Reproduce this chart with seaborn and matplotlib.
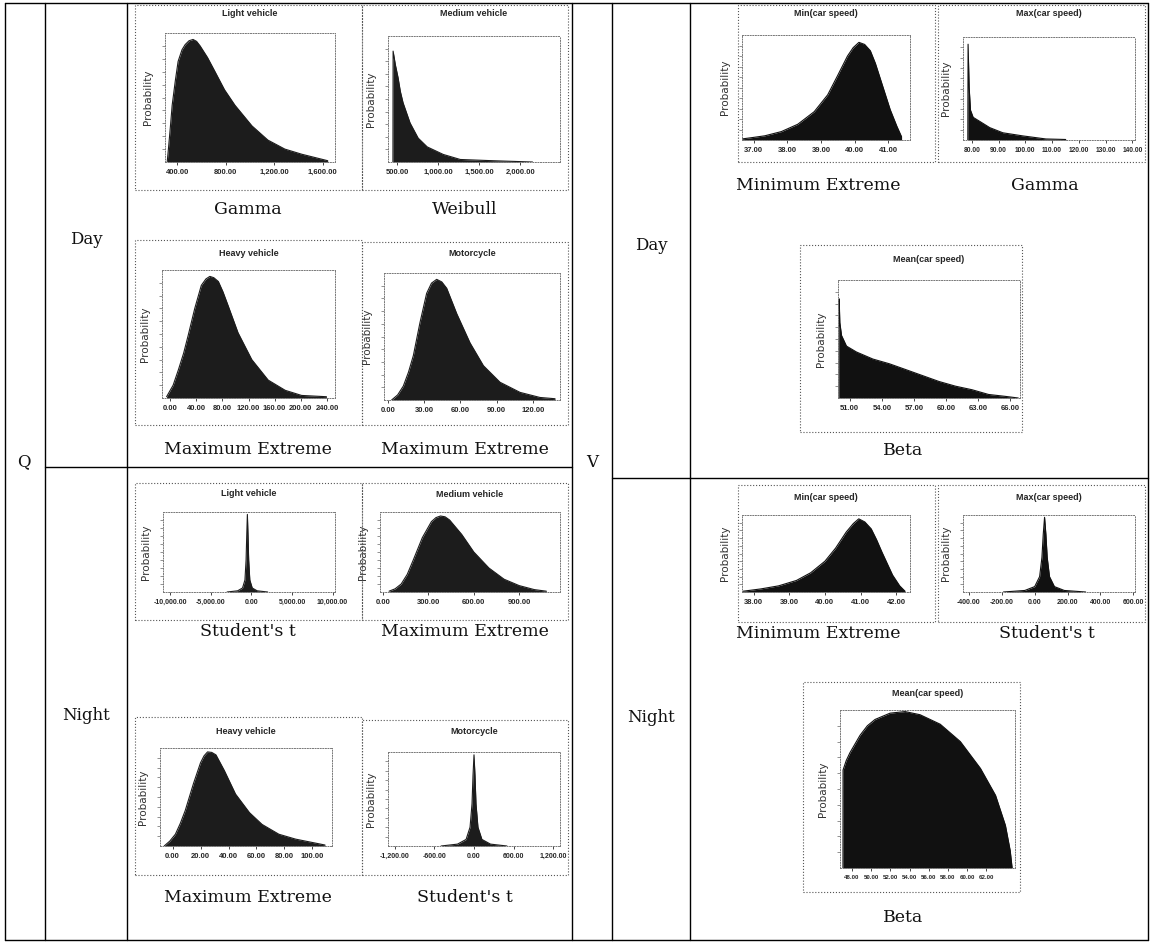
import matplotlib.pyplot as plt
import seaborn as sns
from matplotlib.lines import Line2D
from matplotlib.patches import Rectangle

# ---- data (relative probability heights) ----
# Q, day
q_day_light_x = [318, 330, 345, 359, 385, 408, 440, 466, 498, 531, 560, 589, 650, 712, 790, 876,
                 1016, 1147, 1287, 1427, 1640]
q_day_light_y = [0, 0.12, 0.28, 0.44, 0.63, 0.78, 0.87, 0.91, 0.94, 0.95, 0.935, 0.90, 0.81, 0.70,
                 0.56, 0.44, 0.28, 0.17, 0.10, 0.06, 0.01]
q_day_light_ticks = [400, 800, 1200, 1600]
q_day_light_labels = ["400.00", "800.00", "1,200.00", "1,600.00"]

q_day_medium_x = [450, 452, 480, 512, 540, 573, 658, 756, 866, 1061, 1268, 1671, 2146]
q_day_medium_y = [0, 0.88, 0.77, 0.67, 0.56, 0.47, 0.31, 0.19, 0.12, 0.06, 0.02, 0.01, 0]
q_day_medium_ticks = [500, 1000, 1500, 2000]
q_day_medium_labels = ["500.00", "1,000.00", "1,500.00", "2,000.00"]

q_day_heavy_x = [-5, 5, 13, 21, 28, 38, 48, 55, 61, 67, 74, 81, 89, 104, 125, 150, 176, 201, 239]
q_day_heavy_y = [0.01, 0.10, 0.22, 0.35, 0.49, 0.70, 0.88, 0.93, 0.95, 0.94, 0.91, 0.83, 0.72,
                 0.51, 0.30, 0.14, 0.06, 0.02, 0.01]
q_day_heavy_ticks = [0, 40, 80, 120, 160, 200, 240]
q_day_heavy_labels = ["0.00", "40.00", "80.00", "120.00", "160.00", "200.00", "240.00"]

q_day_moto_x = [3, 8, 12.7, 17, 21, 26.5, 32, 36, 40.3, 44.5, 48.6, 56.9, 67.9, 79, 92.7, 109.3,
                125.8, 138.3]
q_day_moto_y = [0, 0.04, 0.11, 0.22, 0.35, 0.61, 0.84, 0.92, 0.95, 0.93, 0.88, 0.68, 0.45, 0.27,
                0.14, 0.06, 0.02, 0.01]
q_day_moto_ticks = [0, 30, 60, 90, 120]
q_day_moto_labels = ["0.00", "30.00", "60.00", "90.00", "120.00"]

# Q, night
q_night_light_x = [-3000, -1700, -1100, -800, -660, -580, -500, -420, -340, -200, 100, 700, 2000]
q_night_light_y = [0, 0.015, 0.05, 0.15, 0.4, 0.7, 0.97, 0.7, 0.4, 0.15, 0.05, 0.015, 0]
q_night_light_ticks = [-10000, -5000, 0, 5000, 10000]
q_night_light_labels = ["-10,000.00", "-5,000.00", "0.00", "5,000.00", "10,000.00"]

q_night_medium_x = [40, 80, 120, 160, 200, 260, 320, 350, 380, 410, 440, 520, 600, 700, 800, 900,
                    1000, 1080]
q_night_medium_y = [0.01, 0.04, 0.10, 0.22, 0.40, 0.68, 0.88, 0.93, 0.95, 0.94, 0.90, 0.72, 0.50,
                    0.30, 0.16, 0.08, 0.03, 0.01]
q_night_medium_ticks = [0, 300, 600, 900]
q_night_medium_labels = ["0.00", "300.00", "600.00", "900.00"]

q_night_heavy_x = [-6, -2, 2, 5.5, 9, 15, 20, 22.5, 25, 28, 31, 37, 45, 55, 64, 76, 88, 102, 109]
q_night_heavy_y = [0, 0.05, 0.12, 0.23, 0.36, 0.64, 0.85, 0.92, 0.96, 0.955, 0.93, 0.77, 0.53,
                   0.34, 0.22, 0.12, 0.07, 0.03, 0.01]
q_night_heavy_ticks = [0, 20, 40, 60, 80, 100]
q_night_heavy_labels = ["0.00", "20.00", "40.00", "60.00", "80.00", "100.00"]

q_night_moto_x = [-500, -250, -120, -60, -30, -15, 0, 15, 30, 60, 120, 250, 500]
q_night_moto_y = [0, 0.02, 0.07, 0.2, 0.45, 0.75, 0.97, 0.75, 0.45, 0.2, 0.07, 0.02, 0]
q_night_moto_ticks = [-1200, -600, 0, 600, 1200]
q_night_moto_labels = ["-1,200.00", "-600.00", "0.00", "600.00", "1,200.00"]

# V, day
v_day_min_x = [36.65, 37.0, 37.33, 37.82, 38.31, 38.80, 39.20, 39.49, 39.79, 39.96, 40.13, 40.3,
               40.47, 40.62, 40.76, 40.91, 41.06, 41.26, 41.40]
v_day_min_y = [0.01, 0.025, 0.04, 0.08, 0.15, 0.27, 0.43, 0.61, 0.80, 0.88, 0.93, 0.91, 0.85,
               0.73, 0.59, 0.44, 0.29, 0.13, 0.03]
v_day_min_ticks = [37, 38, 39, 40, 41]
v_day_min_labels = ["37.00", "38.00", "39.00", "40.00", "41.00"]

v_day_max_x = [78.5, 78.6, 79.0, 79.5, 80.5, 83.0, 86.7, 91.6, 99.0, 107.7, 115.1]
v_day_max_y = [0, 0.93, 0.51, 0.29, 0.22, 0.18, 0.12, 0.07, 0.04, 0.01, 0.005]
v_day_max_ticks = [80, 90, 100, 110, 120, 130, 140]
v_day_max_labels = ["80.00", "90.00", "100.00", "110.00", "120.00", "130.00", "140.00"]

v_day_mean_x = [50.0, 50.01, 50.07, 50.23, 50.69, 51.62, 53.16, 54.70, 56.25, 57.79,
                59.33, 60.88, 62.42, 63.96, 65.51, 66.74]
v_day_mean_y = [0, 0.84, 0.64, 0.53, 0.44, 0.39, 0.33, 0.29, 0.24, 0.19,
                0.14, 0.10, 0.07, 0.03, 0.014, 0]
v_day_mean_ticks = [51, 54, 57, 60, 63, 66]
v_day_mean_labels = ["51.00", "54.00", "57.00", "60.00", "63.00", "66.00"]

# V, night
v_night_min_x = [37.7, 38.2, 38.7, 39.2, 39.6, 40.0, 40.3, 40.6, 40.8, 40.95, 41.12, 41.3, 41.45,
                 41.6, 41.9, 42.1, 42.25]
v_night_min_y = [0.01, 0.04, 0.08, 0.15, 0.25, 0.40, 0.57, 0.78, 0.89, 0.95, 0.91, 0.82, 0.68,
                 0.52, 0.22, 0.08, 0.01]
v_night_min_ticks = [38, 39, 40, 41, 42]
v_night_min_labels = ["38.00", "39.00", "40.00", "41.00", "42.00"]

v_night_max_x = [-190, -60, 0, 30, 44, 52, 60, 68, 76, 90, 120, 180, 310]
v_night_max_y = [0, 0.02, 0.07, 0.2, 0.45, 0.75, 0.97, 0.75, 0.45, 0.2, 0.07, 0.02, 0]
v_night_max_ticks = [-400, -200, 0, 200, 400, 600]
v_night_max_labels = ["-400.00", "-200.00", "0.00", "200.00", "400.00", "600.00"]

v_night_mean_x = [47.06, 47.07, 47.4, 47.79, 48.84, 49.6, 50.4, 51.97, 53.54, 55.1, 57.2, 59.3,
                  61.4, 62.97, 64.0, 64.5, 64.7]
v_night_mean_y = [0, 0.62, 0.68, 0.73, 0.84, 0.90, 0.94, 0.98, 0.99, 0.97, 0.91, 0.80,
                  0.63, 0.46, 0.27, 0.11, 0]
v_night_mean_ticks = [48, 50, 52, 54, 56, 58, 60, 62]
v_night_mean_labels = ["48.00", "50.00", "52.00", "54.00", "56.00", "58.00", "60.00", "62.00"]

# ---- figure ----
sns.set_theme(style="white")
plt.rcParams['font.family'] = ['DejaVu Sans']

W, H = 1150, 950
fig = plt.figure(figsize=(W / 100, H / 100), dpi=100)
fig.patch.set_facecolor('white')

SERIF = ['DejaVu Serif']
NARROW = ['Liberation Sans', 'DejaVu Sans']


def fx(px):
    return px / W


def fy(py):
    return 1 - py / H


def line(x0, y0, x1, y1):
    fig.add_artist(Line2D([fx(x0), fx(x1)], [fy(y0), fy(y1)], color='black', lw=1.0))


def label(x, y, s, size=12):
    fig.text(fx(x), fy(y), s, family=SERIF, fontsize=size, ha='center', va='center', color='#111')


def panel(frame, area, title, title_y, xs, ys, xlim, ticks, labels, caption, cap_xy,
          fill='#1c1c1c', tsize=5.5):
    x0, y0, x1, y1 = frame
    fig.add_artist(Rectangle((fx(x0), fy(y1)), fx(x1) - fx(x0), fy(y0) - fy(y1),
                             transform=fig.transFigure, fill=False, ls=':', lw=0.8, ec='#555'))
    a0, b0, a1, b1 = area
    fig.text(fx((a0 + a1) / 2), fy(title_y), title, family=NARROW, fontsize=6.5,
             fontweight='bold', ha='center', va='center')
    ax = fig.add_axes([fx(a0), fy(b1), fx(a1) - fx(a0), fy(b0) - fy(b1)])
    ax.fill_between(xs, ys, color=fill, lw=0)
    sns.lineplot(x=xs, y=ys, ax=ax, color=fill, lw=0.8, estimator=None, sort=False)
    ax.set_xlim(xlim)
    ax.set_ylim(0, 1.0)
    ax.set_xticks(ticks)
    ax.set_xticklabels(labels, fontsize=tsize, fontweight='bold', family=NARROW)
    ax.set_yticks([0.1, 0.2, 0.3, 0.4, 0.5, 0.6, 0.7, 0.8, 0.9])
    ax.set_yticklabels([])
    ax.tick_params(axis='x', bottom=True, length=2, width=0.6, pad=3)
    ax.tick_params(axis='y', left=True, length=2, width=0.5, color='#666')
    for s in ax.spines.values():
        s.set_linestyle(':')
        s.set_linewidth(0.7)
        s.set_color('#777')
    ax.set_ylabel('Probability', fontsize=7.5, labelpad=3, color='#333')
    ax.set_xlabel('')
    label(cap_xy[0], cap_xy[1], caption, size=12.5)


# table grid
line(5, 3, 1148, 3)
line(5, 940, 1148, 940)
for xv in [5, 45, 127, 572, 612, 690, 1148]:
    line(xv, 3, xv, 940)
line(45, 467, 572, 467)
line(612, 478, 1148, 478)

label(24, 462, "Q")
label(86, 240, "Day")
label(86, 715, "Night")
label(592, 462, "V")
label(651, 245, "Day")
label(651, 718, "Night")

# Q panels
panel((135, 5, 362, 190), (165, 33, 335, 162), "Light vehicle", 14,
      q_day_light_x, q_day_light_y, (300, 1700), q_day_light_ticks, q_day_light_labels,
      "Gamma", (248, 210))
panel((362, 5, 568, 190), (388, 36, 560, 162), "Medium vehicle", 14,
      q_day_medium_x, q_day_medium_y, (390, 2480), q_day_medium_ticks, q_day_medium_labels,
      "Weibull", (465, 210))
panel((135, 240, 362, 425), (162, 270, 335, 398), "Heavy vehicle", 253,
      q_day_heavy_x, q_day_heavy_y, (-12, 252), q_day_heavy_ticks, q_day_heavy_labels,
      "Maximum Extreme", (248, 450))
panel((362, 242, 568, 425), (384, 273, 560, 400), "Motorcycle", 253,
      q_day_moto_x, q_day_moto_y, (-3.3, 142.4), q_day_moto_ticks, q_day_moto_labels,
      "Maximum Extreme", (465, 450))
panel((135, 483, 362, 620), (163, 512, 335, 592), "Light vehicle", 493,
      q_night_light_x, q_night_light_y, (-10900, 10300), q_night_light_ticks, q_night_light_labels,
      "Student's t", (248, 632), tsize=5.0)
panel((362, 483, 568, 620), (380, 512, 560, 592), "Medium vehicle", 495,
      q_night_medium_x, q_night_medium_y, (-20, 1170), q_night_medium_ticks, q_night_medium_labels,
      "Maximum Extreme", (465, 632))
panel((135, 717, 362, 875), (160, 748, 332, 846), "Heavy vehicle", 731,
      q_night_heavy_x, q_night_heavy_y, (-9, 114), q_night_heavy_ticks, q_night_heavy_labels,
      "Maximum Extreme", (248, 897))
panel((362, 720, 568, 875), (388, 752, 560, 846), "Motorcycle", 731,
      q_night_moto_x, q_night_moto_y, (-1306, 1306), q_night_moto_ticks, q_night_moto_labels,
      "Student's t", (465, 897), tsize=5.0)

# V panels
panel((738, 5, 935, 162), (742, 35, 910, 140), "Min(car speed)", 14,
      v_day_min_x, v_day_min_y, (36.65, 41.65), v_day_min_ticks, v_day_min_labels,
      "Minimum Extreme", (818, 186), fill='#111111')
panel((938, 5, 1145, 162), (963, 37, 1135, 140), "Max(car speed)", 14,
      v_day_max_x, v_day_max_y, (76.7, 141), v_day_max_ticks, v_day_max_labels,
      "Gamma", (1045, 186), fill='#111111', tsize=4.8)
panel((800, 245, 1022, 432), (838, 280, 1020, 398), "Mean(car speed)", 259,
      v_day_mean_x, v_day_mean_y, (49.9, 66.9), v_day_mean_ticks, v_day_mean_labels,
      "Beta", (903, 451), fill='#111111')
panel((738, 485, 935, 622), (742, 515, 910, 592), "Min(car speed)", 497,
      v_night_min_x, v_night_min_y, (37.67, 42.39), v_night_min_ticks, v_night_min_labels,
      "Minimum Extreme", (818, 633), fill='#111111')
panel((938, 485, 1145, 622), (963, 515, 1135, 592), "Max(car speed)", 497,
      v_night_max_x, v_night_max_y, (-436, 610), v_night_max_ticks, v_night_max_labels,
      "Student's t", (1047, 633), fill='#111111', tsize=5.0)
panel((803, 682, 1020, 892), (840, 710, 1015, 868), "Mean(car speed)", 694,
      v_night_mean_x, v_night_mean_y, (46.75, 65.0), v_night_mean_ticks, v_night_mean_labels,
      "Beta", (903, 917), fill='#111111', tsize=4.4)

fig.savefig("out.png", dpi=100, facecolor='white')
